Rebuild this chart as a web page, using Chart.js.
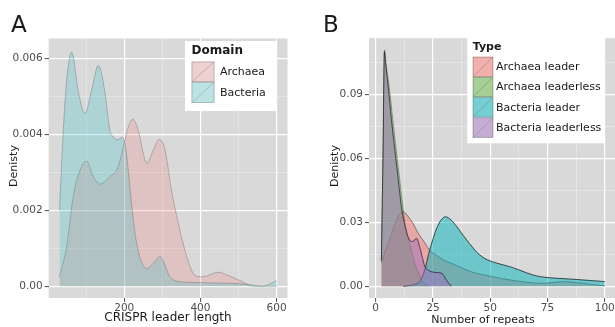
<!DOCTYPE html>
<html>
<head>
<meta charset="utf-8">
<script src="https://cdn.jsdelivr.net/npm/chart.js@4.4.1/dist/chart.umd.min.js"></script>
<style>
  html, body { margin: 0; padding: 0; background: #fff; }
  body { width: 615px; height: 327px; overflow: hidden; position: relative; }
  canvas { position: absolute; top: 0; }
  #chartA { left: 0; }
  #chartB { left: 305px; }
</style>
</head>
<body>
<canvas id="chartA" width="300" height="327"></canvas>
<canvas id="chartB" width="315" height="327"></canvas>
<script>
'use strict';

/* ─── Panel A: CRISPR leader length, density by domain ─── */
const A_LABELS = ['Archaea', 'Bacteria'];
const A_ARCHAEA_X = [30, 48.8, 66, 84, 101, 119, 136, 162.5, 184, 197.6, 210.6, 222, 237, 250, 260, 276, 292, 307, 324, 342, 364, 381, 399, 416, 447, 469, 504, 539, 570, 600];
const A_ARCHAEA_Y = [0.00025, 0.00104, 0.00236, 0.00306, 0.0033, 0.00289, 0.00269, 0.00289, 0.00315, 0.00367, 0.0042, 0.0044, 0.00411, 0.0035, 0.00324, 0.00359, 0.00387, 0.00359, 0.00253, 0.00166, 0.00078, 0.00034, 0.00025, 0.00027, 0.00037, 0.0003, 0.00015, 0.0, 0.0, 0.0];
const A_BACTERIA_X = [30, 40, 48.8, 62, 80, 97, 115, 132, 148, 162.5, 171, 182, 193, 202, 210.6, 219, 232.5, 259, 276, 294, 320, 346, 380, 420, 460, 500, 530, 562, 580, 600];
const A_BACTERIA_Y = [0.002, 0.0041, 0.0054, 0.00617, 0.0051, 0.00455, 0.0052, 0.00582, 0.0052, 0.0041, 0.00394, 0.00386, 0.00392, 0.00376, 0.00306, 0.00218, 0.00113, 0.00047, 0.0006, 0.00078, 0.00025, 0.00012, 0.0001, 0.00009, 0.00008, 0.00007, 0.00004, 0.0, 0.00005, 0.00015];

const A_X_MAJOR = [200, 400, 600];
const A_X_MAJOR_LABELS = ['200', '400', '600'];
const A_X_MINOR = [100, 300, 500];
const A_Y_MAJOR = [0, 0.002, 0.004, 0.006];
const A_Y_MAJOR_LABELS = ['0.00', '0.002', '0.004', '0.006'];
const A_Y_MINOR = [0.001, 0.003, 0.005];

/* ─── Panel B: number of repeats, density by type ─── */
const B_LABELS = ['Archaea leader', 'Archaea leaderless', 'Bacteria leader', 'Bacteria leaderless'];
const B_ARCH_LEADER_X = [2.5, 4, 6, 8, 10, 12, 14, 16.3, 18.5, 20.6, 23.6, 26.5, 29.4, 32, 35.2, 40, 43.9, 49.7, 55, 58.5, 65, 71.6, 76, 81.7, 86, 90.4, 95, 100];
const B_ARCH_LEADER_Y = [0.0108, 0.016, 0.0217, 0.028, 0.033, 0.035, 0.033, 0.0295, 0.025, 0.0217, 0.017, 0.0145, 0.0125, 0.0112, 0.0098, 0.0075, 0.0061, 0.0048, 0.0036, 0.003, 0.002, 0.0014, 0.0016, 0.0022, 0.0019, 0.0014, 0.0008, 0.0002];
const B_ARCH_LEADERLESS_X = [2.5, 3.2, 3.9, 4.6, 6.1, 7.5, 9, 10.5, 11.9, 13.1, 14.5, 16, 18, 20, 23];
const B_ARCH_LEADERLESS_Y = [0.012, 0.06, 0.1108, 0.104, 0.092, 0.078, 0.064, 0.05, 0.0373, 0.0264, 0.0217, 0.015, 0.008, 0.003, 0.0];
const B_BACT_LEADER_X = [12, 15, 17, 19.2, 21.4, 23.6, 26.5, 28.5, 30.5, 33, 35.5, 38.1, 41, 43.9, 46.5, 49, 53, 58.5, 63, 68.6, 72, 75.9, 80, 84.6, 90, 95, 100];
const B_BACT_LEADER_Y = [0.0, 0.0004, 0.001, 0.0022, 0.0076, 0.017, 0.0268, 0.031, 0.0326, 0.031, 0.0278, 0.024, 0.02, 0.0162, 0.0138, 0.0123, 0.0108, 0.0092, 0.0075, 0.0053, 0.0045, 0.004, 0.0037, 0.0034, 0.003, 0.0026, 0.0022];
const B_BACT_LEADERLESS_X = [2.5, 3.2, 3.8, 4.4, 5.8, 7.2, 8.8, 10.3, 11.2, 12.5, 14.8, 16.3, 17.8, 19.2, 20.5, 21.4, 23, 26, 29, 30.8, 33];
const B_BACT_LEADERLESS_Y = [0.012, 0.06, 0.11, 0.104, 0.09, 0.075, 0.06, 0.046, 0.0373, 0.03, 0.0217, 0.021, 0.0225, 0.0186, 0.013, 0.0095, 0.0075, 0.0065, 0.006, 0.003, 0.0];

const B_X_MAJOR = [0, 25, 50, 75, 100];
const B_X_MAJOR_LABELS = ['0', '25', '50', '75', '100'];
const B_X_MINOR = [12.5, 37.5, 62.5, 87.5];
const B_Y_MAJOR = [0, 0.03, 0.06, 0.09];
const B_Y_MAJOR_LABELS = ['0.00', '0.03', '0.06', '0.09'];
const B_Y_MINOR = [0.015, 0.045, 0.075, 0.105];

Chart.defaults.font.family = '"DejaVu Sans", sans-serif';
Chart.defaults.animation = false;

const PANEL_BG = '#d9d9da';

function points(xs, ys) {
  return xs.map((x, i) => ({ x: x, y: ys[i] }));
}

function series(label, xs, ys, fill, line, lineWidth, order) {
  return {
    label: label,
    data: points(xs, ys),
    backgroundColor: fill,
    borderColor: line,
    borderWidth: lineWidth,
    fill: 'origin',
    pointRadius: 0,
    cubicInterpolationMode: 'monotone',
    order: order
  };
}

// one axis: major ticks get labels + white lines, minor ticks only thin lines
function axis(major, labels, minor, min, max, size, fontSize, pad) {
  const isMajor = v => major.indexOf(v) >= 0;
  return {
    type: 'linear',
    min: min,
    max: max,
    afterBuildTicks: s => {
      s.ticks = major.concat(minor).sort((a, b) => a - b).map(v => ({ value: v }));
    },
    afterFit: s => {
      if (s.isHorizontal()) s.height = size; else s.width = size;
    },
    ticks: {
      autoSkip: false,
      maxRotation: 0,
      padding: pad,
      color: '#4d4d4d',
      font: { size: fontSize },
      callback: v => { const i = major.indexOf(v); return i < 0 ? '' : labels[i]; }
    },
    grid: {
      color: c => isMajor(c.tick.value) ? '#ffffff' : 'rgba(255,255,255,0.5)',
      lineWidth: c => isMajor(c.tick.value) ? 1.2 : 0.6,
      tickLength: 4,
      tickColor: c => isMajor(c.tick.value) ? '#4d4d4d' : 'rgba(0,0,0,0)',
      tickWidth: 1
    },
    border: { display: false }
  };
}

/* ─── Plugins: panel background, titles, ggplot-like legend ─── */
const panelBg = {
  id: 'panelBg',
  beforeDraw(chart) {
    const a = chart.chartArea, ctx = chart.ctx;
    ctx.save();
    ctx.fillStyle = PANEL_BG;
    ctx.fillRect(a.left, a.top, a.right - a.left, a.bottom - a.top);
    ctx.restore();
  }
};

const annotations = {
  id: 'annotations',
  afterDraw(chart, args, opts) {
    const ctx = chart.ctx;
    ctx.save();
    ctx.fillStyle = '#1a1a1a';
    // panel letter
    ctx.font = '23px "DejaVu Sans"';
    ctx.textAlign = 'left';
    ctx.textBaseline = 'alphabetic';
    ctx.fillText(opts.letter.text, opts.letter.x, opts.letter.y);
    // x title
    ctx.textAlign = 'center';
    ctx.textBaseline = 'middle';
    ctx.font = opts.xTitle.size + 'px "DejaVu Sans"';
    ctx.fillText(opts.xTitle.text, opts.xTitle.x, opts.xTitle.y);
    // y title
    ctx.translate(opts.yTitle.x, opts.yTitle.y);
    ctx.rotate(-Math.PI / 2);
    ctx.font = opts.yTitle.size + 'px "DejaVu Sans"';
    ctx.fillText(opts.yTitle.text, 0, 0);
    ctx.restore();
  }
};

const boxLegend = {
  id: 'boxLegend',
  afterDraw(chart, args, o) {
    const ctx = chart.ctx;
    ctx.save();
    ctx.fillStyle = '#ffffff';
    ctx.fillRect(o.x, o.y, o.w, o.h);
    ctx.fillStyle = '#1a1a1a';
    ctx.textAlign = 'left';
    ctx.textBaseline = 'middle';
    ctx.font = 'bold ' + o.titleSize + 'px "DejaVu Sans"';
    ctx.fillText(o.title, o.keyX, o.titleY);
    ctx.font = o.labelSize + 'px "DejaVu Sans"';
    chart.data.datasets.forEach((ds, i) => {
      const top = o.rowTop + i * o.rowH;
      ctx.fillStyle = '#ebebeb';
      ctx.fillRect(o.keyX, top, o.keyW, o.rowH);
      ctx.fillStyle = ds.backgroundColor;
      ctx.fillRect(o.keyX, top, o.keyW, o.rowH);
      ctx.strokeStyle = o.keyLine;
      ctx.lineWidth = 0.6;
      ctx.strokeRect(o.keyX + 0.5, top + 0.5, o.keyW - 1, o.rowH - 1);
      ctx.beginPath();
      ctx.moveTo(o.keyX, top + o.rowH);
      ctx.lineTo(o.keyX + o.keyW, top);
      ctx.stroke();
      ctx.fillStyle = '#1a1a1a';
      ctx.fillText(ds.label, o.labelX, top + o.rowH / 2 + 0.5);
    });
    ctx.restore();
  }
};

/* ─── Chart A ─── */
new Chart(document.getElementById('chartA'), {
  type: 'line',
  data: {
    datasets: [
      series(A_LABELS[0], A_ARCHAEA_X, A_ARCHAEA_Y, 'rgba(248,118,109,0.22)', 'rgba(90,90,90,0.45)', 0.8, 2),
      series(A_LABELS[1], A_BACTERIA_X, A_BACTERIA_Y, 'rgba(0,191,196,0.2)', 'rgba(90,90,90,0.45)', 0.8, 1)
    ]
  },
  options: {
    responsive: false,
    layout: { padding: { left: 0, top: 38.5, right: 12.5, bottom: 0 } },
    plugins: {
      legend: { display: false },
      tooltip: { enabled: false },
      annotations: {
        letter: { text: 'A', x: 11, y: 31.5 },
        xTitle: { text: 'CRISPR leader length', x: 168, y: 318, size: 12 },
        yTitle: { text: 'Denisty', x: 14, y: 166, size: 11 }
      },
      boxLegend: {
        x: 185, y: 41, w: 91, h: 70,
        title: 'Domain', titleSize: 12, titleY: 51,
        keyX: 191.5, keyW: 23, rowTop: 61.5, rowH: 20.7,
        labelX: 220, labelSize: 11, keyLine: 'rgba(120,120,120,0.6)'
      }
    },
    scales: {
      x: axis(A_X_MAJOR, A_X_MAJOR_LABELS, A_X_MINOR, 1.5, 628.5, 29, 10.5, 0),
      y: axis(A_Y_MAJOR, A_Y_MAJOR_LABELS, A_Y_MINOR, -0.00031, 0.00653, 48.6, 10.5, 2)
    }
  },
  plugins: [panelBg, annotations, boxLegend]
});

/* ─── Chart B ─── */
new Chart(document.getElementById('chartB'), {
  type: 'line',
  data: {
    datasets: [
      series(B_LABELS[0], B_ARCH_LEADER_X, B_ARCH_LEADER_Y, 'rgba(248,118,109,0.5)', 'rgba(40,30,30,0.5)', 1, 4),
      series(B_LABELS[1], B_ARCH_LEADERLESS_X, B_ARCH_LEADERLESS_Y, 'rgba(95,180,65,0.5)', 'rgba(60,80,50,0.45)', 1, 3),
      series(B_LABELS[2], B_BACT_LEADER_X, B_BACT_LEADER_Y, 'rgba(0,180,186,0.5)', 'rgba(25,40,40,0.8)', 1, 2),
      series(B_LABELS[3], B_BACT_LEADERLESS_X, B_BACT_LEADERLESS_Y, 'rgba(160,112,190,0.5)', 'rgba(25,25,40,0.7)', 1, 1)
    ]
  },
  options: {
    responsive: false,
    layout: { padding: { left: 0, top: 38.2, right: 4, bottom: 0 } },
    plugins: {
      legend: { display: false },
      tooltip: { enabled: false },
      annotations: {
        letter: { text: 'B', x: 18, y: 31.5 },
        xTitle: { text: 'Number of repeats', x: 178, y: 320, size: 11 },
        yTitle: { text: 'Denisty', x: 30, y: 166, size: 11 }
      },
      boxLegend: {
        x: 162.3, y: 36.7, w: 137.7, h: 106.6,
        title: 'Type', titleSize: 11, titleY: 47.5,
        keyX: 167.7, keyW: 20.6, rowTop: 56.7, rowH: 20.25,
        labelX: 191, labelSize: 11, keyLine: 'rgba(110,110,110,0.6)'
      }
    },
    scales: {
      x: axis(B_X_MAJOR, B_X_MAJOR_LABELS, B_X_MINOR, -2.9, 104.9, 29, 10.5, 0),
      y: axis(B_Y_MAJOR, B_Y_MAJOR_LABELS, B_Y_MINOR, -0.0055, 0.1163, 64, 10.5, 2)
    }
  },
  plugins: [panelBg, annotations, boxLegend]
});
</script>
</body>
</html>
